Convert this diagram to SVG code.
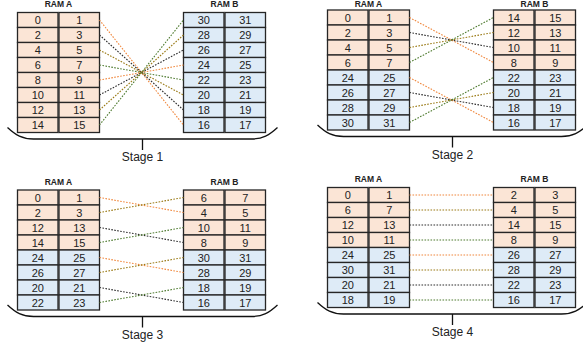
<svg xmlns="http://www.w3.org/2000/svg" width="583" height="350" viewBox="0 0 583 350">
  <style>
    .a { fill: #FBE5D6; stroke: #262626; stroke-width: 1.3; }
    .b { fill: #DEEBF7; stroke: #262626; stroke-width: 1.3; }
    .n { font-family: "Liberation Sans", Arial, sans-serif; font-size: 11px; fill: #222; text-anchor: middle; }
    .t { font-family: "Liberation Sans", Arial, sans-serif; font-size: 8.5px; font-weight: bold; fill: #222; text-anchor: middle; }
    .s { font-family: "Liberation Sans", Arial, sans-serif; font-size: 12px; fill: #222; text-anchor: middle; }
    .br { fill: none; stroke: #111; stroke-width: 1.3; }
    .c { fill: none; stroke-width: 1.1; stroke-dasharray: 1.6 1.4; }
    .co { stroke: #F0883E; }
    .cy { stroke: #9A7A16; }
    .ck { stroke: #2E2E2E; }
    .cg { stroke: #4F7B30; }
  </style>

  <!-- ===== Stage 1 ===== -->
  <g id="stage1" transform="translate(17.5,12.5)">
    <g id="s1-ramA">
      <text class="t" x="41" y="-5.5">RAM A</text>
      <g class="a">
        <rect x="0" y="0" width="40.5" height="15"/><rect x="41.5" y="0" width="40.5" height="15"/>
        <rect x="0" y="15" width="40.5" height="15"/><rect x="41.5" y="15" width="40.5" height="15"/>
        <rect x="0" y="30" width="40.5" height="15"/><rect x="41.5" y="30" width="40.5" height="15"/>
        <rect x="0" y="45" width="40.5" height="15"/><rect x="41.5" y="45" width="40.5" height="15"/>
        <rect x="0" y="60" width="40.5" height="15"/><rect x="41.5" y="60" width="40.5" height="15"/>
        <rect x="0" y="75" width="40.5" height="15"/><rect x="41.5" y="75" width="40.5" height="15"/>
        <rect x="0" y="90" width="40.5" height="15"/><rect x="41.5" y="90" width="40.5" height="15"/>
        <rect x="0" y="105" width="40.5" height="15"/><rect x="41.5" y="105" width="40.5" height="15"/>
      </g>
      <g class="n">
        <text x="20.25" y="11.5">0</text><text x="61.75" y="11.5">1</text>
        <text x="20.25" y="26.5">2</text><text x="61.75" y="26.5">3</text>
        <text x="20.25" y="41.5">4</text><text x="61.75" y="41.5">5</text>
        <text x="20.25" y="56.5">6</text><text x="61.75" y="56.5">7</text>
        <text x="20.25" y="71.5">8</text><text x="61.75" y="71.5">9</text>
        <text x="20.25" y="86.5">10</text><text x="61.75" y="86.5">11</text>
        <text x="20.25" y="101.5">12</text><text x="61.75" y="101.5">13</text>
        <text x="20.25" y="116.5">14</text><text x="61.75" y="116.5">15</text>
      </g>
    </g>
    <g id="s1-ramB" transform="translate(166,0)">
      <text class="t" x="41" y="-5.5">RAM B</text>
      <g class="b">
        <rect x="0" y="0" width="40.5" height="15"/><rect x="41.5" y="0" width="40.5" height="15"/>
        <rect x="0" y="15" width="40.5" height="15"/><rect x="41.5" y="15" width="40.5" height="15"/>
        <rect x="0" y="30" width="40.5" height="15"/><rect x="41.5" y="30" width="40.5" height="15"/>
        <rect x="0" y="45" width="40.5" height="15"/><rect x="41.5" y="45" width="40.5" height="15"/>
        <rect x="0" y="60" width="40.5" height="15"/><rect x="41.5" y="60" width="40.5" height="15"/>
        <rect x="0" y="75" width="40.5" height="15"/><rect x="41.5" y="75" width="40.5" height="15"/>
        <rect x="0" y="90" width="40.5" height="15"/><rect x="41.5" y="90" width="40.5" height="15"/>
        <rect x="0" y="105" width="40.5" height="15"/><rect x="41.5" y="105" width="40.5" height="15"/>
      </g>
      <g class="n">
        <text x="20.25" y="11.5">30</text><text x="61.75" y="11.5">31</text>
        <text x="20.25" y="26.5">28</text><text x="61.75" y="26.5">29</text>
        <text x="20.25" y="41.5">26</text><text x="61.75" y="41.5">27</text>
        <text x="20.25" y="56.5">24</text><text x="61.75" y="56.5">25</text>
        <text x="20.25" y="71.5">22</text><text x="61.75" y="71.5">23</text>
        <text x="20.25" y="86.5">20</text><text x="61.75" y="86.5">21</text>
        <text x="20.25" y="101.5">18</text><text x="61.75" y="101.5">19</text>
        <text x="20.25" y="116.5">16</text><text x="61.75" y="116.5">17</text>
      </g>
    </g>
    <g id="s1-label">
      <path class="br" d="M-10,115 C-2,122.5 5,126.5 16,126.5 H234 C245,126.5 252,122.5 260,115 M125,126.5 V137.5"/>
      <text class="s" x="125" y="148.5">Stage 1</text>
    </g>
  </g>

  <!-- ===== Stage 2 ===== -->
  <g id="stage2" transform="translate(327.5,10)">
    <g id="s2-ramA">
      <text class="t" x="41" y="-3.2">RAM A</text>
      <g class="a">
        <rect x="0" y="0" width="40.5" height="15"/><rect x="41.5" y="0" width="40.5" height="15"/>
        <rect x="0" y="15" width="40.5" height="15"/><rect x="41.5" y="15" width="40.5" height="15"/>
        <rect x="0" y="30" width="40.5" height="15"/><rect x="41.5" y="30" width="40.5" height="15"/>
        <rect x="0" y="45" width="40.5" height="15"/><rect x="41.5" y="45" width="40.5" height="15"/>
      </g>
      <g class="b">
        <rect x="0" y="60" width="40.5" height="15"/><rect x="41.5" y="60" width="40.5" height="15"/>
        <rect x="0" y="75" width="40.5" height="15"/><rect x="41.5" y="75" width="40.5" height="15"/>
        <rect x="0" y="90" width="40.5" height="15"/><rect x="41.5" y="90" width="40.5" height="15"/>
        <rect x="0" y="105" width="40.5" height="15"/><rect x="41.5" y="105" width="40.5" height="15"/>
      </g>
      <g class="n">
        <text x="20.25" y="11.5">0</text><text x="61.75" y="11.5">1</text>
        <text x="20.25" y="26.5">2</text><text x="61.75" y="26.5">3</text>
        <text x="20.25" y="41.5">4</text><text x="61.75" y="41.5">5</text>
        <text x="20.25" y="56.5">6</text><text x="61.75" y="56.5">7</text>
        <text x="20.25" y="71.5">24</text><text x="61.75" y="71.5">25</text>
        <text x="20.25" y="86.5">26</text><text x="61.75" y="86.5">27</text>
        <text x="20.25" y="101.5">28</text><text x="61.75" y="101.5">29</text>
        <text x="20.25" y="116.5">30</text><text x="61.75" y="116.5">31</text>
      </g>
    </g>
    <g id="s2-ramB" transform="translate(166,0)">
      <text class="t" x="41" y="-3.2">RAM B</text>
      <g class="a">
        <rect x="0" y="0" width="40.5" height="15"/><rect x="41.5" y="0" width="40.5" height="15"/>
        <rect x="0" y="15" width="40.5" height="15"/><rect x="41.5" y="15" width="40.5" height="15"/>
        <rect x="0" y="30" width="40.5" height="15"/><rect x="41.5" y="30" width="40.5" height="15"/>
        <rect x="0" y="45" width="40.5" height="15"/><rect x="41.5" y="45" width="40.5" height="15"/>
      </g>
      <g class="b">
        <rect x="0" y="60" width="40.5" height="15"/><rect x="41.5" y="60" width="40.5" height="15"/>
        <rect x="0" y="75" width="40.5" height="15"/><rect x="41.5" y="75" width="40.5" height="15"/>
        <rect x="0" y="90" width="40.5" height="15"/><rect x="41.5" y="90" width="40.5" height="15"/>
        <rect x="0" y="105" width="40.5" height="15"/><rect x="41.5" y="105" width="40.5" height="15"/>
      </g>
      <g class="n">
        <text x="20.25" y="11.5">14</text><text x="61.75" y="11.5">15</text>
        <text x="20.25" y="26.5">12</text><text x="61.75" y="26.5">13</text>
        <text x="20.25" y="41.5">10</text><text x="61.75" y="41.5">11</text>
        <text x="20.25" y="56.5">8</text><text x="61.75" y="56.5">9</text>
        <text x="20.25" y="71.5">22</text><text x="61.75" y="71.5">23</text>
        <text x="20.25" y="86.5">20</text><text x="61.75" y="86.5">21</text>
        <text x="20.25" y="101.5">18</text><text x="61.75" y="101.5">19</text>
        <text x="20.25" y="116.5">16</text><text x="61.75" y="116.5">17</text>
      </g>
    </g>
    <g id="s2-label">
      <path class="br" d="M-10,115 C-2,122.5 5,126.5 16,126.5 H234 C245,126.5 252,122.5 260,115 M125,126.5 V137.5"/>
      <text class="s" x="125" y="148.5">Stage 2</text>
    </g>
  </g>

  <!-- ===== Stage 3 ===== -->
  <g id="stage3" transform="translate(17.5,190)">
    <g id="s3-ramA">
      <text class="t" x="41" y="-5.5">RAM A</text>
      <g class="a">
        <rect x="0" y="0" width="40.5" height="15"/><rect x="41.5" y="0" width="40.5" height="15"/>
        <rect x="0" y="15" width="40.5" height="15"/><rect x="41.5" y="15" width="40.5" height="15"/>
        <rect x="0" y="30" width="40.5" height="15"/><rect x="41.5" y="30" width="40.5" height="15"/>
        <rect x="0" y="45" width="40.5" height="15"/><rect x="41.5" y="45" width="40.5" height="15"/>
      </g>
      <g class="b">
        <rect x="0" y="60" width="40.5" height="15"/><rect x="41.5" y="60" width="40.5" height="15"/>
        <rect x="0" y="75" width="40.5" height="15"/><rect x="41.5" y="75" width="40.5" height="15"/>
        <rect x="0" y="90" width="40.5" height="15"/><rect x="41.5" y="90" width="40.5" height="15"/>
        <rect x="0" y="105" width="40.5" height="15"/><rect x="41.5" y="105" width="40.5" height="15"/>
      </g>
      <g class="n">
        <text x="20.25" y="11.5">0</text><text x="61.75" y="11.5">1</text>
        <text x="20.25" y="26.5">2</text><text x="61.75" y="26.5">3</text>
        <text x="20.25" y="41.5">12</text><text x="61.75" y="41.5">13</text>
        <text x="20.25" y="56.5">14</text><text x="61.75" y="56.5">15</text>
        <text x="20.25" y="71.5">24</text><text x="61.75" y="71.5">25</text>
        <text x="20.25" y="86.5">26</text><text x="61.75" y="86.5">27</text>
        <text x="20.25" y="101.5">20</text><text x="61.75" y="101.5">21</text>
        <text x="20.25" y="116.5">22</text><text x="61.75" y="116.5">23</text>
      </g>
    </g>
    <g id="s3-ramB" transform="translate(166,0)">
      <text class="t" x="41" y="-5.5">RAM B</text>
      <g class="a">
        <rect x="0" y="0" width="40.5" height="15"/><rect x="41.5" y="0" width="40.5" height="15"/>
        <rect x="0" y="15" width="40.5" height="15"/><rect x="41.5" y="15" width="40.5" height="15"/>
        <rect x="0" y="30" width="40.5" height="15"/><rect x="41.5" y="30" width="40.5" height="15"/>
        <rect x="0" y="45" width="40.5" height="15"/><rect x="41.5" y="45" width="40.5" height="15"/>
      </g>
      <g class="b">
        <rect x="0" y="60" width="40.5" height="15"/><rect x="41.5" y="60" width="40.5" height="15"/>
        <rect x="0" y="75" width="40.5" height="15"/><rect x="41.5" y="75" width="40.5" height="15"/>
        <rect x="0" y="90" width="40.5" height="15"/><rect x="41.5" y="90" width="40.5" height="15"/>
        <rect x="0" y="105" width="40.5" height="15"/><rect x="41.5" y="105" width="40.5" height="15"/>
      </g>
      <g class="n">
        <text x="20.25" y="11.5">6</text><text x="61.75" y="11.5">7</text>
        <text x="20.25" y="26.5">4</text><text x="61.75" y="26.5">5</text>
        <text x="20.25" y="41.5">10</text><text x="61.75" y="41.5">11</text>
        <text x="20.25" y="56.5">8</text><text x="61.75" y="56.5">9</text>
        <text x="20.25" y="71.5">30</text><text x="61.75" y="71.5">31</text>
        <text x="20.25" y="86.5">28</text><text x="61.75" y="86.5">29</text>
        <text x="20.25" y="101.5">18</text><text x="61.75" y="101.5">19</text>
        <text x="20.25" y="116.5">16</text><text x="61.75" y="116.5">17</text>
      </g>
    </g>
    <g id="s3-label">
      <path class="br" d="M-10,115 C-2,122.5 5,126.5 16,126.5 H234 C245,126.5 252,122.5 260,115 M125,126.5 V137.5"/>
      <text class="s" x="125" y="148.5">Stage 3</text>
    </g>
  </g>

  <!-- ===== Stage 4 ===== -->
  <g id="stage4" transform="translate(327.5,187.5)">
    <g id="s4-ramA">
      <text class="t" x="41" y="-5.5">RAM A</text>
      <g class="a">
        <rect x="0" y="0" width="40.5" height="15"/><rect x="41.5" y="0" width="40.5" height="15"/>
        <rect x="0" y="15" width="40.5" height="15"/><rect x="41.5" y="15" width="40.5" height="15"/>
        <rect x="0" y="30" width="40.5" height="15"/><rect x="41.5" y="30" width="40.5" height="15"/>
        <rect x="0" y="45" width="40.5" height="15"/><rect x="41.5" y="45" width="40.5" height="15"/>
      </g>
      <g class="b">
        <rect x="0" y="60" width="40.5" height="15"/><rect x="41.5" y="60" width="40.5" height="15"/>
        <rect x="0" y="75" width="40.5" height="15"/><rect x="41.5" y="75" width="40.5" height="15"/>
        <rect x="0" y="90" width="40.5" height="15"/><rect x="41.5" y="90" width="40.5" height="15"/>
        <rect x="0" y="105" width="40.5" height="15"/><rect x="41.5" y="105" width="40.5" height="15"/>
      </g>
      <g class="n">
        <text x="20.25" y="11.5">0</text><text x="61.75" y="11.5">1</text>
        <text x="20.25" y="26.5">6</text><text x="61.75" y="26.5">7</text>
        <text x="20.25" y="41.5">12</text><text x="61.75" y="41.5">13</text>
        <text x="20.25" y="56.5">10</text><text x="61.75" y="56.5">11</text>
        <text x="20.25" y="71.5">24</text><text x="61.75" y="71.5">25</text>
        <text x="20.25" y="86.5">30</text><text x="61.75" y="86.5">31</text>
        <text x="20.25" y="101.5">20</text><text x="61.75" y="101.5">21</text>
        <text x="20.25" y="116.5">18</text><text x="61.75" y="116.5">19</text>
      </g>
    </g>
    <g id="s4-ramB" transform="translate(166,0)">
      <text class="t" x="41" y="-5.5">RAM B</text>
      <g class="a">
        <rect x="0" y="0" width="40.5" height="15"/><rect x="41.5" y="0" width="40.5" height="15"/>
        <rect x="0" y="15" width="40.5" height="15"/><rect x="41.5" y="15" width="40.5" height="15"/>
        <rect x="0" y="30" width="40.5" height="15"/><rect x="41.5" y="30" width="40.5" height="15"/>
        <rect x="0" y="45" width="40.5" height="15"/><rect x="41.5" y="45" width="40.5" height="15"/>
      </g>
      <g class="b">
        <rect x="0" y="60" width="40.5" height="15"/><rect x="41.5" y="60" width="40.5" height="15"/>
        <rect x="0" y="75" width="40.5" height="15"/><rect x="41.5" y="75" width="40.5" height="15"/>
        <rect x="0" y="90" width="40.5" height="15"/><rect x="41.5" y="90" width="40.5" height="15"/>
        <rect x="0" y="105" width="40.5" height="15"/><rect x="41.5" y="105" width="40.5" height="15"/>
      </g>
      <g class="n">
        <text x="20.25" y="11.5">2</text><text x="61.75" y="11.5">3</text>
        <text x="20.25" y="26.5">4</text><text x="61.75" y="26.5">5</text>
        <text x="20.25" y="41.5">14</text><text x="61.75" y="41.5">15</text>
        <text x="20.25" y="56.5">8</text><text x="61.75" y="56.5">9</text>
        <text x="20.25" y="71.5">26</text><text x="61.75" y="71.5">27</text>
        <text x="20.25" y="86.5">28</text><text x="61.75" y="86.5">29</text>
        <text x="20.25" y="101.5">22</text><text x="61.75" y="101.5">23</text>
        <text x="20.25" y="116.5">16</text><text x="61.75" y="116.5">17</text>
      </g>
    </g>
    <g id="s4-label">
      <path class="br" d="M-10,115 C-2,122.5 5,126.5 16,126.5 H234 C245,126.5 252,122.5 260,115 M125,126.5 V137.5"/>
      <text class="s" x="125" y="148.5">Stage 4</text>
    </g>
  </g>

  <!-- ===== dotted row connectors (RAM A -> RAM B) ===== -->
  <g id="connectors" class="c">
    <!-- stage 1: row i -> row 7-i, all crossing at one point -->
    <line class="co" x1="99.5" y1="20" x2="183.5" y2="125"/>
    <line class="ck" x1="99.5" y1="35" x2="183.5" y2="110"/>
    <line class="cy" x1="99.5" y1="50" x2="183.5" y2="95"/>
    <line class="cg" x1="99.5" y1="65" x2="183.5" y2="80"/>
    <line class="co" x1="99.5" y1="80" x2="183.5" y2="65"/>
    <line class="ck" x1="99.5" y1="95" x2="183.5" y2="50"/>
    <line class="cy" x1="99.5" y1="110" x2="183.5" y2="35"/>
    <line class="cg" x1="99.5" y1="125" x2="183.5" y2="20"/>
    <!-- stage 2: reversed within each block of four -->
    <line class="co" x1="409.5" y1="17.5" x2="493.5" y2="62.5"/>
    <line class="ck" x1="409.5" y1="32.5" x2="493.5" y2="47.5"/>
    <line class="cy" x1="409.5" y1="47.5" x2="493.5" y2="32.5"/>
    <line class="cg" x1="409.5" y1="62.5" x2="493.5" y2="17.5"/>
    <line class="co" x1="409.5" y1="77.5" x2="493.5" y2="122.5"/>
    <line class="ck" x1="409.5" y1="92.5" x2="493.5" y2="107.5"/>
    <line class="cy" x1="409.5" y1="107.5" x2="493.5" y2="92.5"/>
    <line class="cg" x1="409.5" y1="122.5" x2="493.5" y2="77.5"/>
    <!-- stage 3: swapped within each pair -->
    <line class="co" x1="99.5" y1="197.5" x2="183.5" y2="212.5"/>
    <line class="cy" x1="99.5" y1="212.5" x2="183.5" y2="197.5"/>
    <line class="ck" x1="99.5" y1="227.5" x2="183.5" y2="242.5"/>
    <line class="cg" x1="99.5" y1="242.5" x2="183.5" y2="227.5"/>
    <line class="co" x1="99.5" y1="257.5" x2="183.5" y2="272.5"/>
    <line class="cy" x1="99.5" y1="272.5" x2="183.5" y2="257.5"/>
    <line class="ck" x1="99.5" y1="287.5" x2="183.5" y2="302.5"/>
    <line class="cg" x1="99.5" y1="302.5" x2="183.5" y2="287.5"/>
    <!-- stage 4: straight across -->
    <line class="co" x1="409.5" y1="195" x2="493.5" y2="195"/>
    <line class="cy" x1="409.5" y1="210" x2="493.5" y2="210"/>
    <line class="ck" x1="409.5" y1="225" x2="493.5" y2="225"/>
    <line class="cg" x1="409.5" y1="240" x2="493.5" y2="240"/>
    <line class="co" x1="409.5" y1="255" x2="493.5" y2="255"/>
    <line class="cy" x1="409.5" y1="270" x2="493.5" y2="270"/>
    <line class="ck" x1="409.5" y1="285" x2="493.5" y2="285"/>
    <line class="cg" x1="409.5" y1="300" x2="493.5" y2="300"/>
  </g>
</svg>
